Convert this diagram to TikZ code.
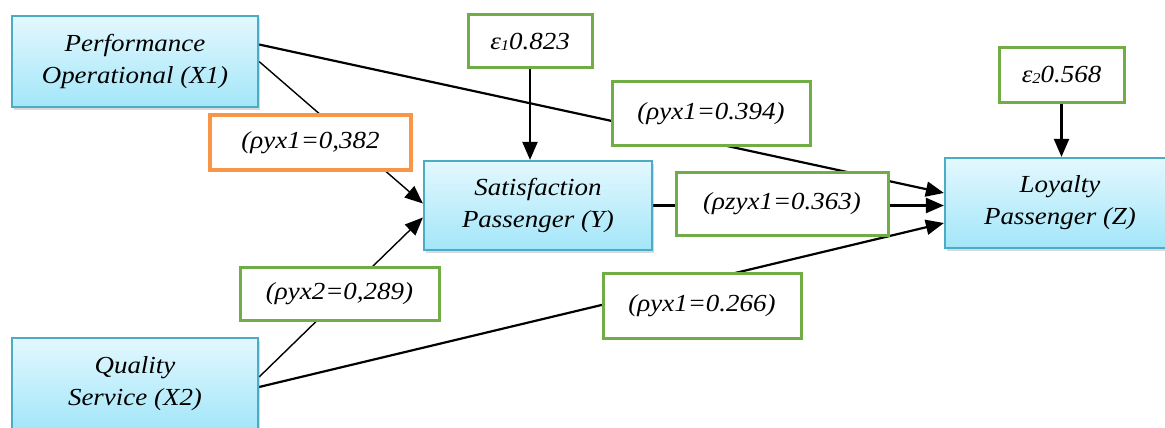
\documentclass[tikz,border=0pt]{standalone}
\usepackage{fontspec}
\setmainfont{Liberation Serif}[FakeStretch=1.1]
\usetikzlibrary{shadows,arrows.meta,backgrounds}
\definecolor{bluebd}{HTML}{4BACC6}
\definecolor{bluetop}{HTML}{E3F8FE}
\definecolor{bluebot}{HTML}{A3E6F9}
\definecolor{grn}{HTML}{70AD47}
\definecolor{org}{HTML}{F79646}
\tikzset{
  txt/.style={align=center, font=\fontsize{24.5}{32}\selectfont\itshape, inner sep=0pt, text=black},
  var/.style={txt, draw=bluebd, line width=2.2pt, top color=bluetop, bottom color=bluebot,
    drop shadow={opacity=0.3, shadow xshift=2pt, shadow yshift=-3pt}},
  lab/.style={txt, draw=grn, line width=3pt, fill=white},
  olab/.style={lab, draw=org, line width=4.5pt},
  conn/.style={line width=2.2pt, -{Triangle[length=18pt,width=15pt]}},
  thin conn/.style={line width=1.4pt, -{Triangle[length=18pt,width=15pt]}},
}
\newcommand{\epsub}[1]{ε\raisebox{-1pt}{\fontsize{15}{15}\selectfont #1}}
\begin{document}
\begin{tikzpicture}[x=1pt,y=-1pt]
\useasboundingbox (0,0) rectangle (1165,428);
% variables
\node[var, minimum width=246pt, minimum height=91pt] (X1) at (135,61.5) {Performance\\Operational (X1)};
\node[var, minimum width=246pt, minimum height=91pt] (X2) at (135,383.5) {Quality\\Service (X2)};
\node[var, minimum width=228pt, minimum height=89pt] (Y) at (538,205.5) {Satisfaction\\Passenger (Y)};
\node[var, minimum width=230pt, minimum height=90pt] (Z) at (1060,203) {Loyalty\\Passenger (Z)};
% labels
\node[lab, minimum width=124pt, minimum height=53pt] (e1) at (530,41.5) {\epsub{1}0.823};
\node[lab, minimum width=125pt, minimum height=54pt] (e2) at (1061.5,75) {\epsub{2}0.568};
\node[lab, minimum width=198pt, minimum height=63pt] (r394) at (711,113.5) {(ρyx1=0.394)};
\node[lab, minimum width=212pt, minimum height=63pt] (r363) at (782,203.5) {(ρzyx1=0.363)};
\node[lab, minimum width=199pt, minimum height=53pt] (r289) at (339.5,293.5) {(ρyx2=0,289)};
\node[lab, minimum width=198pt, minimum height=65pt] (r266) at (702,305.5) {(ρyx1=0.266)};
\node[olab, minimum width=201pt, minimum height=55pt] (r382) at (310.5,142.5) {(ρyx1=0,382};
% connectors
\begin{scope}[on background layer]
\draw[thin conn] (X1.east) -- ([yshift=2pt]Y.west);
\draw[thin conn] ([yshift=6.5pt]X2.east) -- ([yshift=-12pt]Y.west);
\draw[conn] ([yshift=17pt]X1.east) -- ([yshift=10pt]Z.west);
\draw[conn] (Y.east) -- (Y.east -| Z.west);
\draw[conn] ([yshift=-3.5pt]X2.east) -- ([yshift=-20pt]Z.west);
\draw[conn] (e1.south) -- (e1.south |- Y.north);
\draw[conn] (e2.south) -- (e2.south |- Z.north);
\end{scope}
\end{tikzpicture}
\end{document}
